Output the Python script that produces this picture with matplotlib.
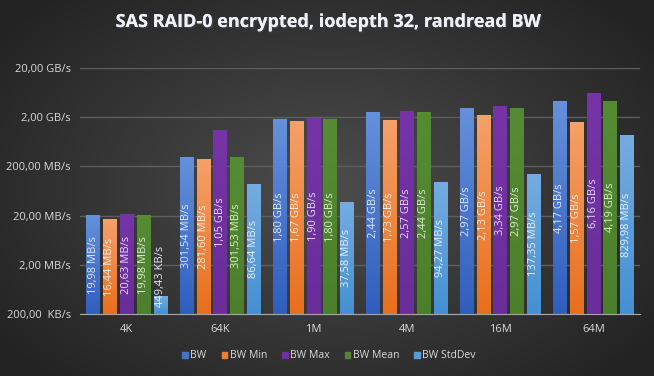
import numpy as np
import matplotlib
matplotlib.use("Agg")
import matplotlib.pyplot as plt
from matplotlib.image import BboxImage
from matplotlib.transforms import Bbox, TransformedBbox
import matplotlib.transforms as mtrans
import matplotlib.patheffects as pe

plt.rcParams['font.family'] = ['Open Sans', 'DejaVu Sans']

# werte in MB/s
blocks = ["4K", "64K", "1M", "4M", "16M", "64M"]
bw      = [19.98, 301.54, 1800, 2440, 2970, 4170]
bw_min  = [16.44, 281.60, 1670, 1730, 2130, 1570]
bw_max  = [20.63, 1050, 1900, 2570, 3340, 6160]
bw_mean = [19.98, 301.53, 1800, 2440, 2970, 4190]
bw_std  = [0.44943, 86.64, 37.58, 94.27, 137.35, 829.98]
series_names = ["BW", "BW Min", "BW Max", "BW Mean", "BW StdDev"]
tick_vals = [0.2, 2, 20, 200, 2000, 20000]
tick_labels = ["200,00  KB/s", "2,00 MB/s", "20,00 MB/s", "200,00 MB/s", "2,00 GB/s", "20,00 GB/s"]

series = [bw, bw_min, bw_max, bw_mean, bw_std]
# (oben, unten, legende, labelfarbe)
colors = [("#6590db", "#2f5ebd", "#4472c4", "#dfe6f5"),
          ("#f6a06a", "#e86f1c", "#ed7d31", "#fde8da"),
          ("#7634a8", "#6a2d9a", "#7030a0", "#e6d9f0"),
          ("#558c33", "#4c7f2c", "#548235", "#dcebd2"),
          ("#75acdf", "#4590d3", "#5b9bd5", "#e3eef9")]

def fmt(v):
    if v >= 1000:
        s, u = f"{v/1000:.2f}", "GB/s"
    elif v >= 1:
        s, u = f"{v:.2f}", "MB/s"
    else:
        s, u = f"{v*1000:.2f}", "KB/s"
    return s.replace(".", ",") + " " + u

fig = plt.figure(figsize=(6.54, 3.76), dpi=100)

# hintergrund: radialer verlauf
bg = fig.add_axes([0, 0, 1, 1], zorder=-5)
yy, xx = np.mgrid[-1:1:200j, -1:1:300j]
r = np.sqrt(xx**2 + (yy * 0.9)**2)
g = np.clip(0.30 - 0.13 * r, 0.14, 0.30)
bg.imshow(np.dstack([g, g, g]), aspect="auto", extent=[0, 1, 0, 1])
bg.axis("off")

ax = fig.add_axes([80/654, 1 - 314/376, 560/654, (314-68)/376])
ax.patch.set_alpha(0)
ax.set_yscale("log")
ax.set_ylim(0.2, 20000)
ax.set_xlim(-0.5, len(blocks) - 0.5)

step = 0.18
width = 0.143
x = np.arange(len(blocks))
for j, (vals, (ctop, cbot, cleg, clab)) in enumerate(zip(series, colors)):
    xs = x + (j - 2) * step
    bars = ax.bar(xs, vals, width=width, bottom=0.2, color=cleg, zorder=2,
                  label=series_names[j])
    grad = np.linspace(0, 1, 64).reshape(-1, 1)
    c1 = np.array(matplotlib.colors.to_rgb(ctop))
    c2 = np.array(matplotlib.colors.to_rgb(cbot))
    img = c1[None, None, :] * (1 - grad[..., None]) + c2[None, None, :] * grad[..., None]
    for b, v, xc in zip(bars, vals, xs):
        bb = TransformedBbox(Bbox([[xc - width/2, 0.2], [xc + width/2, v]]), ax.transData)
        bi = BboxImage(bb, interpolation="bilinear", zorder=3)
        bi.set_data(img)
        ax.add_artist(bi)
        b.set_alpha(0)
        # label mittig im balken, bei kurzen balken unten verankert
        if np.log10(v / 0.2) > 1.3:
            ax.text(xc, np.sqrt(0.2 * v), fmt(v), rotation=90, ha="center", va="center",
                    color=clab, fontsize=8, zorder=4)
        else:
            off = mtrans.offset_copy(ax.transData, fig=fig, y=5, units="points")
            ax.text(xc, 0.2, fmt(v), rotation=90, ha="center", va="bottom",
                    color=clab, fontsize=8, zorder=4, transform=off)

ax.set_yticks(tick_vals)
ax.set_yticklabels(tick_labels)
ax.minorticks_off()
ax.set_xticks(x)
ax.set_xticklabels(blocks)
ax.tick_params(axis="both", length=0, colors="#d9d9d9", labelsize=8)
ax.tick_params(axis="y", pad=6.5)
ax.tick_params(axis="x", pad=7)
ax.grid(axis="y", color="#5e5e5e", lw=1, zorder=0)
for s in ["top", "right", "left"]:
    ax.spines[s].set_visible(False)
ax.spines["bottom"].set_color("#a6a6a6")
ax.spines["bottom"].set_zorder(5)

handles = [plt.Rectangle((0, 0), 1, 1, color=c[2]) for c in colors]
leg = fig.legend(handles, series_names, loc="center", bbox_to_anchor=(0.503, 1 - 356/376),
                 ncol=5, frameon=False, fontsize=7.5, handlelength=0.55, handleheight=0.55,
                 handletextpad=0.2, columnspacing=1.46)
for t in leg.get_texts():
    t.set_color("#d9d9d9")

fig.text(0.5, 1 - 22/376, "SAS RAID-0 encrypted, iodepth 32, randread BW", ha="center",
         va="center", fontsize=13, fontweight="bold", color="#eef2f8",
         path_effects=[pe.withSimplePatchShadow(offset=(1, -1), alpha=0.6), pe.Normal()])

fig.savefig("out.png", dpi=100)
